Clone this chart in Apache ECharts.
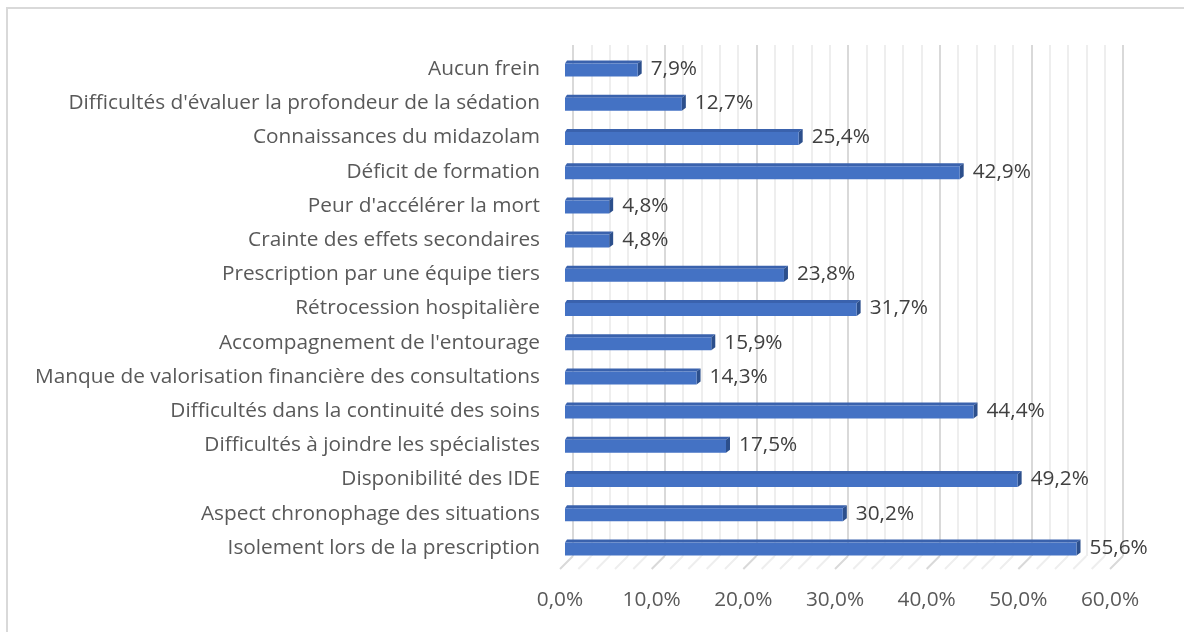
<!DOCTYPE html>
<html>
<head>
<meta charset="utf-8">
<script src="https://cdn.jsdelivr.net/npm/echarts@6/dist/echarts.min.js"></script>
<style>
html,body{margin:0;padding:0;background:#fff;}
#chart{width:1184px;height:632px;}
</style>
</head>
<body>
<div id="chart"></div>
<script>
// Categories listed bottom-to-top
const categories = [
  "Isolement lors de la prescription",
  "Aspect chronophage des situations",
  "Disponibilité des IDE",
  "Difficultés à joindre les spécialistes",
  "Difficultés dans la continuité des soins",
  "Manque de valorisation financière des consultations",
  "Accompagnement de l'entourage",
  "Rétrocession hospitalière",
  "Prescription par une équipe tiers",
  "Crainte des effets secondaires",
  "Peur d'accélérer la mort",
  "Déficit de formation",
  "Connaissances du midazolam",
  "Difficultés d'évaluer la profondeur de la sédation",
  "Aucun frein"
];
const values = [55.6, 30.2, 49.2, 17.5, 44.4, 14.3, 15.9, 31.7, 23.8, 4.8, 4.8, 42.9, 25.4, 12.7, 7.9];
const gridTicks = [0,2,4,6,8,10,12,14,16,18,20,22,24,26,28,30,32,34,36,38,40,42,44,46,48,50,52,54,56,58,60];
const axisMin = 0, axisMax = 60, axisStep = 10;

const FONT = "'Open Sans', sans-serif";
const FS = 20.8;
const fmt = v => v.toFixed(1).replace('.', ',') + '%';

const chart = echarts.init(document.getElementById('chart'), null, {renderer:'canvas'});

const option = {
  backgroundColor: '#ffffff',
  animation: false,
  graphic: [{
    type: 'rect', silent: true, z: -10,
    shape: {x: 7, y: 8, width: 1300, height: 800},
    style: {fill: 'none', stroke: '#d9d9d9', lineWidth: 2}
  }],
  grid: [
    {left: 565, width: 552, top: 52, bottom: 67},   // bars
    {left: 573, width: 550, top: 45, bottom: 76},   // back wall
    {left: 560, width: 550, top: 45, bottom: 64}    // front labels
  ],
  xAxis: [
    {gridIndex: 0, type: 'value', min: axisMin, max: axisMax, interval: axisStep,
     axisLine: {show: false}, axisTick: {show: false}, axisLabel: {show: false}, splitLine: {show: false}},
    {gridIndex: 1, type: 'value', min: axisMin, max: axisMax, interval: axisStep, minorTick: {show: false, splitNumber: 5},
     axisLine: {show: false}, axisTick: {show: false}, axisLabel: {show: false},
     splitLine: {show: true, lineStyle: {color: '#d9d9d9', width: 2}},
     minorSplitLine: {show: true, lineStyle: {color: '#eeeeee', width: 2}}},
    {gridIndex: 2, type: 'value', min: axisMin, max: axisMax, interval: axisStep,
     axisLine: {show: false}, axisTick: {show: false}, splitLine: {show: false},
     axisLabel: {show: true, margin: 22, color: '#595959', fontFamily: FONT, fontSize: FS, formatter: v => fmt(v)}}
  ],
  yAxis: [
    {gridIndex: 0, type: 'category', data: categories,
     axisLine: {show: false}, axisTick: {show: false}, splitLine: {show: false},
     axisLabel: {margin: 25, color: '#595959', fontFamily: FONT, fontSize: FS}},
    {gridIndex: 1, type: 'value', min: 0, max: 1, show: false},
    {gridIndex: 2, type: 'value', min: 0, max: 1, show: false}
  ],
  series: [
    {
      type: 'custom', xAxisIndex: 1, yAxisIndex: 1, z: 1,
      data: gridTicks.map(t => [t, 0]),
      renderItem: function(params, api) {
        const t = api.value(0);
        const p = api.coord([t, 0]);
        const major = t % 10 === 0;
        return {type: 'line', shape: {x1: p[0], y1: p[1], x2: p[0] - 13, y2: p[1] + 13},
          style: {stroke: major ? '#d9d9d9' : '#eeeeee', lineWidth: 2}};
      }
    },
    {
      type: 'custom', xAxisIndex: 0, yAxisIndex: 0, z: 5,
      data: values.map((v, i) => [v, i]),
      encode: {x: 0, y: 1},
      renderItem: function(params, api) {
        const v = api.value(0), c = api.value(1);
        const s = api.coord([0, c]);
        const e = api.coord([v, c]);
        const x0 = s[0], x1 = e[0];
        const cy = s[1] + 1;
        const top = cy - 6.5, bot = cy + 6.5;
        const d = 4, dy = 3;
        return {type: 'group', children: [
          {type: 'polygon', shape: {points: [[x0, top], [x0 + 2, top - dy], [x1 + d, top - dy], [x1, top]]},
           style: {fill: '#3a62ad'}},
          {type: 'polygon', shape: {points: [[x1, top], [x1 + d, top - dy], [x1 + d, bot - dy], [x1, bot]]},
           style: {fill: '#2c4f8c'}},
          {type: 'rect', shape: {x: x0, y: top, width: x1 - x0, height: bot - top},
           style: {fill: '#4472c4'}},
          {type: 'text', x: x1 + d + 9, y: cy - 1,
           style: {text: fmt(v), fill: '#404040', font: FS + 'px ' + FONT, verticalAlign: 'middle', align: 'left'}}
        ]};
      }
    }
  ]
};
chart.setOption(option);
</script>
</body>
</html>
